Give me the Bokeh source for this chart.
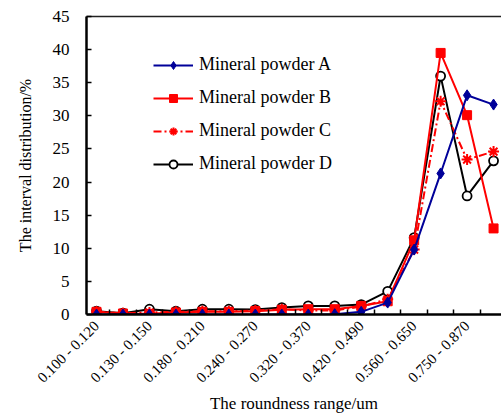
from bokeh.plotting import figure
from bokeh.models import Range1d, FixedTicker, LinearAxis, Legend, LegendItem
from bokeh.embed import file_html
from bokeh.resources import INLINE

categories = ["0.100 - 0.120", "0.120 - 0.130", "0.130 - 0.150", "0.150 - 0.180",
              "0.180 - 0.210", "0.210 - 0.240", "0.240 - 0.270", "0.270 - 0.320",
              "0.320 - 0.370", "0.370 - 0.420", "0.420 - 0.490", "0.490 - 0.560",
              "0.560 - 0.650", "0.650 - 0.750", "0.750 - 0.870", "0.870 - 1.000"]
powder_a = [0.0, 0.0, 0.0, 0.0, 0.0, 0.0, 0.0, 0.0, 0.0, 0.05, 0.4, 1.8, 9.8, 21.3, 33.1, 31.7]
powder_b = [0.4, 0.15, 0.1, 0.3, 0.4, 0.4, 0.5, 0.7, 0.8, 0.8, 1.3, 2.0, 11.2, 39.5, 30.1, 13.0]
powder_c = [0.45, 0.2, 0.3, 0.4, 0.5, 0.5, 0.6, 0.8, 0.6, 0.6, 1.2, 2.3, 9.8, 32.2, 23.4, 24.6]
powder_d = [0.5, 0.2, 0.8, 0.5, 0.8, 0.8, 0.75, 1.05, 1.3, 1.3, 1.5, 3.5, 11.6, 36.0, 17.9, 23.2]
y_ticks = [0, 5, 10, 15, 20, 25, 30, 35, 40, 45]

FONT = "'Liberation Serif', 'Times New Roman', serif"
xs = list(range(len(categories)))

p = figure(width=501, height=417, output_backend="svg", toolbar_location=None,
           x_range=Range1d(-0.378, 15.3), y_range=Range1d(0, 45),
           min_border_left=86, min_border_right=0, min_border_top=16, min_border_bottom=103)
p.outline_line_color = None
p.xgrid.visible = False
p.ygrid.visible = False
p.background_fill_color = "white"
p.border_fill_color = "white"

# x axis
xa = p.xaxis[0]
xa.ticker = FixedTicker(ticks=xs[::2], minor_ticks=[i + 0.5 for i in xs[:-1]])
xa.major_label_overrides = {i: categories[i] for i in xs[::2]}
xa.major_label_orientation = 0.785398
xa.major_tick_in = 0
xa.major_tick_out = 0
xa.minor_tick_in = 5
xa.minor_tick_out = 0
xa.minor_tick_line_width = 1.5
xa.minor_tick_line_color = "black"
xa.axis_line_width = 2.5
xa.axis_line_color = "black"
xa.major_label_text_font = FONT
xa.major_label_text_font_size = "15px"
xa.major_label_text_color = "black"
xa.major_label_standoff = 9
xa.axis_label = "The roundness range/um"
xa.axis_label_text_font = FONT
xa.axis_label_text_font_size = "17px"
xa.axis_label_text_font_style = "normal"
xa.axis_label_text_color = "black"
xa.axis_label_standoff = 0

# y axis
ya = p.yaxis[0]
ya.ticker = FixedTicker(ticks=y_ticks)
ya.major_tick_in = 5
ya.major_tick_out = 0
ya.major_tick_line_width = 1.5
ya.major_tick_line_color = "black"
ya.minor_tick_line_color = None
ya.axis_line_width = 2.5
ya.axis_line_color = "black"
ya.major_label_text_font = FONT
ya.major_label_text_font_size = "17px"
ya.major_label_text_color = "black"
ya.major_label_standoff = 17
ya.axis_label = "The interval distribution/%"
ya.axis_label_text_font = FONT
ya.axis_label_text_font_size = "16px"
ya.axis_label_text_font_style = "normal"
ya.axis_label_text_color = "black"
ya.axis_label_standoff = 16

# top border
top = LinearAxis(ticker=FixedTicker(ticks=[]), axis_line_width=1.5, axis_line_color="#222222",
                 major_tick_in=0, major_tick_out=0, minor_tick_in=0, minor_tick_out=0,
                 major_label_text_font_size="0px")
p.add_layout(top, "above")

BLUE = "#000099"
RED = "#FF0000"

ld = p.line(xs, powder_d, line_color="black", line_width=2)
md = p.scatter(xs, powder_d, marker="circle", size=9, fill_color="white", line_color="black", line_width=1.8)
lc = p.line(xs, powder_c, line_color=RED, line_width=2, line_dash="8 3 2 3")
mc = p.scatter(xs, powder_c, marker="asterisk", size=11, line_color=RED, line_width=2)
lb = p.line(xs, powder_b, line_color=RED, line_width=2)
mb = p.scatter(xs, powder_b, marker="square", size=9, fill_color=RED, line_color=RED)
la = p.line(xs, powder_a, line_color=BLUE, line_width=2)
ma = p.scatter(xs, powder_a, marker="diamond", size=11, fill_color=BLUE, line_color=BLUE)

legend = Legend(items=[
    LegendItem(label="Mineral powder A", renderers=[la, ma]),
    LegendItem(label="Mineral powder B", renderers=[lb, mb]),
    LegendItem(label="Mineral powder C", renderers=[lc, mc]),
    LegendItem(label="Mineral powder D", renderers=[ld, md]),
], location=(67, 140))
legend.border_line_color = None
legend.background_fill_alpha = 0
legend.padding = 0
legend.margin = 0
legend.spacing = 12
legend.glyph_width = 40
legend.glyph_height = 20
legend.label_height = 20
legend.label_standoff = 6
legend.label_text_font = FONT
legend.label_text_font_size = "18px"
legend.label_text_color = "black"
p.add_layout(legend)

open("out.html", "w").write(file_html(p, INLINE))
